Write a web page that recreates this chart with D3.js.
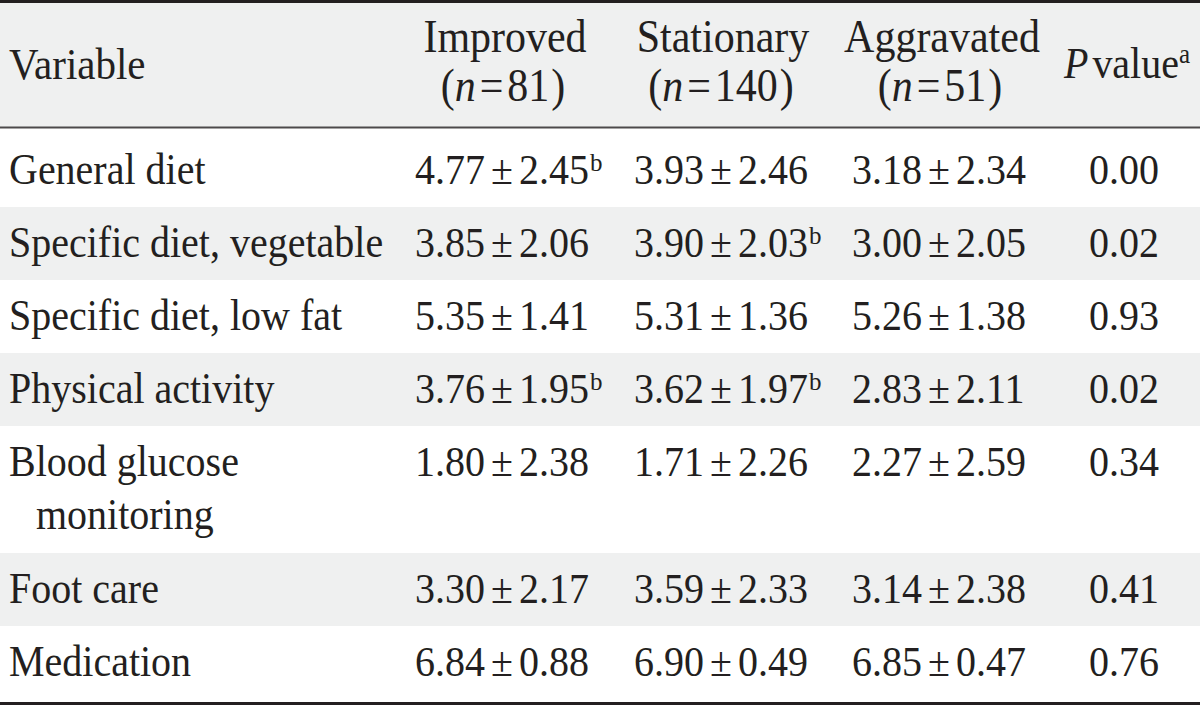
<!DOCTYPE html>
<html><head><meta charset="utf-8">
<script src="https://cdn.jsdelivr.net/npm/d3@7"></script>
<style>html,body{margin:0;padding:0;background:#fff;}svg{display:block;}</style>
</head><body>
<svg id="chart" width="1200" height="707"></svg>
<script>
// ---- data ----
const variables = [["General diet"], ["Specific diet, vegetable"], ["Specific diet, low fat"], ["Physical activity"], ["Blood glucose", "monitoring"], ["Foot care"], ["Medication"]];
const groupNames = ["Improved", "Stationary", "Aggravated"];
const groupN = [81, 140, 51];
const improvedMean = [4.77, 3.85, 5.35, 3.76, 1.80, 3.30, 6.84];
const improvedSD   = [2.45, 2.06, 1.41, 1.95, 2.38, 2.17, 0.88];
const improvedSup  = ["b", "", "", "b", "", "", ""];
const stationaryMean = [3.93, 3.90, 5.31, 3.62, 1.71, 3.59, 6.90];
const stationarySD   = [2.46, 2.03, 1.36, 1.97, 2.26, 2.33, 0.49];
const stationarySup  = ["", "b", "", "b", "", "", ""];
const aggravatedMean = [3.18, 3.00, 5.26, 2.83, 2.27, 3.14, 6.85];
const aggravatedSD   = [2.34, 2.05, 1.38, 2.11, 2.59, 2.38, 0.47];
const aggravatedSup  = ["", "", "", "", "", "", ""];
const pValues = [0.00, 0.02, 0.93, 0.02, 0.34, 0.41, 0.76];

const groups = [
  {mean: improvedMean, sd: improvedSD, sup: improvedSup},
  {mean: stationaryMean, sd: stationarySD, sup: stationarySup},
  {mean: aggravatedMean, sd: aggravatedSD, sup: aggravatedSup}
];

// ---- layout ----
const W = 1200, H = 707;
const ink = "#231f20", shade = "#eff0f0";
const font = "'Liberation Serif', 'DejaVu Serif', serif";
const fs = 40, headFs = 42, supFs = 25;
const headerTop = 3, headerBottom = 127;
const baseRowH = 73, lineH = 53;
const stretch = 1.1;

const svg = d3.select("#chart");
svg.append("rect").attr("width", W).attr("height", H).attr("fill", "#fff");

const rows = [];
let y = headerBottom + 1;
variables.forEach((v, i) => {
  let h = baseRowH + (v.length - 1) * (lineH + 1);
  let pad = 0;
  if (i === 0) { h += 6; pad = 6; }
  if (i === variables.length - 1) { h += 5; }
  rows.push({i, top: y, h, pad});
  y += h;
});
const tableBottom = y;

svg.append("rect").attr("x", 0).attr("y", headerTop).attr("width", W).attr("height", headerBottom - headerTop).attr("fill", shade);
svg.selectAll("rect.stripe").data(rows.filter(r => r.i % 2 === 1)).join("rect")
  .attr("class", "stripe").attr("x", 0).attr("y", d => d.top).attr("width", W).attr("height", d => d.h).attr("fill", shade);

svg.append("rect").attr("x", 0).attr("y", 0).attr("width", W).attr("height", 3).attr("fill", ink);
svg.append("rect").attr("x", 0).attr("y", headerBottom - 0.5).attr("width", W).attr("height", 2).attr("fill", "#4d4a4b");
svg.append("rect").attr("x", 0).attr("y", tableBottom - 2).attr("width", W).attr("height", 3).attr("fill", ink);

const colX = d3.scaleOrdinal().domain([0, 1, 2]).range([415, 634, 852]);
const headerCX = d3.scaleOrdinal().domain([0, 1, 2]).range([505, 723, 942]);
const pCX = 1124;

function label(x, yy, s, size) {
  return svg.append("text")
    .attr("transform", `translate(${x},${yy}) scale(1,${s || 1})`)
    .attr("font-family", font).attr("font-size", size || fs).attr("fill", ink);
}

// header
label(9, 79, stretch, 41).text("Variable");
groupNames.forEach((name, k) => {
  label(headerCX(k), 52, stretch, headFs).attr("text-anchor", "middle").text(name);
  const t = label(headerCX(k) - 2, 101, stretch, headFs).attr("text-anchor", "middle");
  t.append("tspan").text("(");
  t.append("tspan").attr("font-style", "italic").text("n");
  t.append("tspan").attr("dx", 4).text("=");
  t.append("tspan").attr("dx", 4).text(groupN[k]);
  t.append("tspan").attr("dx", 2).text(")");
});
{
  const t = label(pCX + 3, 78, stretch, fs).attr("text-anchor", "middle");
  t.append("tspan").attr("font-style", "italic").text("P");
  t.append("tspan").attr("dx", 4).text("value");
  t.append("tspan").attr("font-size", supFs).attr("dy", -14).text("a");
}

// body
rows.forEach(r => {
  const base = r.top + 50 + r.pad;
  const lines = variables[r.i];
  lines.forEach((ln, j) => {
    label(j === 0 ? 9 : 36, base + j * lineH, stretch).text(ln);
  });
  groups.forEach((g, k) => {
    const t = label(colX(k), base, 1.03);
    t.append("tspan").text(d3.format(".2f")(g.mean[r.i]));
    t.append("tspan").attr("dx", 6).text("±");
    t.append("tspan").attr("dx", 6).text(d3.format(".2f")(g.sd[r.i]));
    if (g.sup[r.i]) t.append("tspan").attr("font-size", supFs).attr("dy", -13).attr("dx", 1).text(g.sup[r.i]);
  });
  label(pCX, base, 1.03).attr("text-anchor", "middle").text(d3.format(".2f")(pValues[r.i]));
});
</script>
</body></html>
